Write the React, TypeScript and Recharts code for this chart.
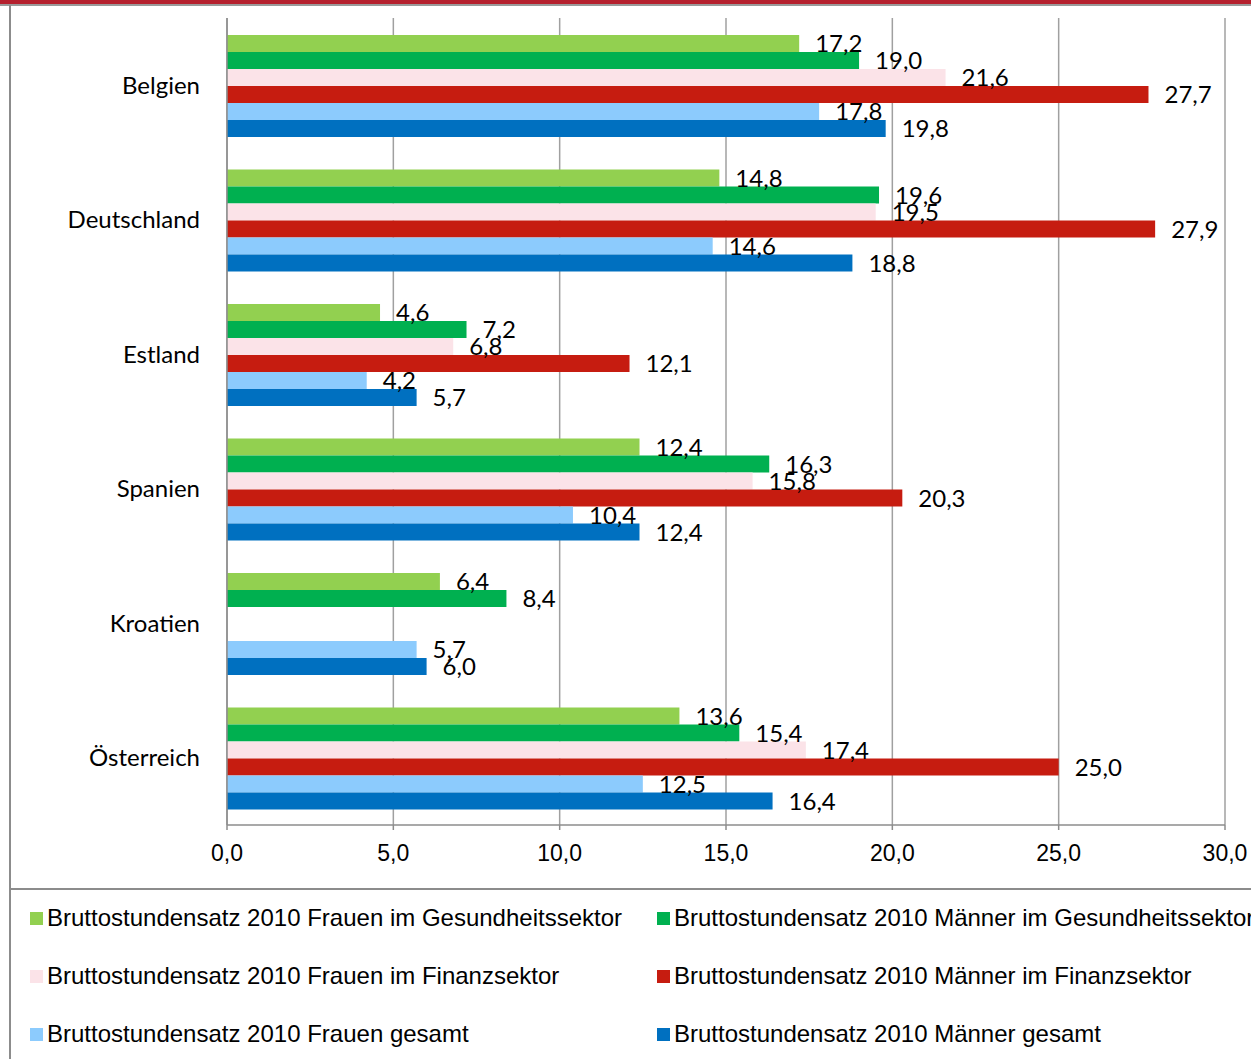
import React from "react";
import {
  BarChart,
  Bar,
  XAxis,
  YAxis,
  CartesianGrid,
  LabelList,
  Legend
} from "recharts";

const laender = ["Belgien", "Deutschland", "Estland", "Spanien", "Kroatien", "Österreich"];

const frauenGesundheit = [17.2, 14.8, 4.6, 12.4, 6.4, 13.6];
const maennerGesundheit = [19.0, 19.6, 7.2, 16.3, 8.4, 15.4];
const frauenFinanz = [21.6, 19.5, 6.8, 15.8, null, 17.4];
const maennerFinanz = [27.7, 27.9, 12.1, 20.3, null, 25.0];
const frauenGesamt = [17.8, 14.6, 4.2, 10.4, 5.7, 12.5];
const maennerGesamt = [19.8, 18.8, 5.7, 12.4, 6.0, 16.4];

const xTicks = [0, 5, 10, 15, 20, 25, 30];

const serien = [
  { key: "fg", name: "Bruttostundensatz 2010 Frauen im Gesundheitssektor", color: "#92d050", values: frauenGesundheit },
  { key: "mg", name: "Bruttostundensatz 2010 Männer im Gesundheitssektor", color: "#00b050", values: maennerGesundheit },
  { key: "ff", name: "Bruttostundensatz 2010 Frauen im Finanzsektor", color: "#fbe3e8", values: frauenFinanz },
  { key: "mf", name: "Bruttostundensatz 2010 Männer im Finanzsektor", color: "#c61c10", values: maennerFinanz },
  { key: "fa", name: "Bruttostundensatz 2010 Frauen gesamt", color: "#8ccbfd", values: frauenGesamt },
  { key: "ma", name: "Bruttostundensatz 2010 Männer gesamt", color: "#0070c0", values: maennerGesamt }
];

const data = laender.map((land, i) => {
  const row: Record<string, string | number | null> = { land };
  serien.forEach((s) => {
    row[s.key] = s.values[i];
  });
  return row;
});

const komma = (v: unknown) =>
  typeof v === "number" ? v.toFixed(1).replace(".", ",") : "";

const LABEL_FONT = "Lato, 'Open Sans', sans-serif";
const LEGEND_FONT = "'Liberation Sans', Arial, sans-serif";

const LegendBox = () => (
  <div style={{ position: "relative", width: 1251, height: 170, fontFamily: LEGEND_FONT }}>
    {serien.map((s, i) => {
      const col = i % 2;
      const row = Math.floor(i / 2);
      return (
        <div
          key={s.key}
          style={{
            position: "absolute",
            left: col === 0 ? 30 : 657,
            top: 29 + row * 58 - 14,
            height: 28,
            display: "flex",
            alignItems: "center",
            whiteSpace: "nowrap",
            fontSize: 24,
            color: "#000"
          }}
        >
          <span style={{ width: 13, height: 13, background: s.color, marginRight: 4, display: "inline-block" }} />
          {s.name}
        </div>
      );
    })}
  </div>
);

export default function App() {
  return (
    <div style={{ position: "absolute", left: 0, top: 0, width: 1251, height: 1059, background: "#fff", overflow: "hidden" }}>
      <BarChart
        width={1251}
        height={1059}
        data={data}
        layout="vertical"
        margin={{ top: 18, right: 26, bottom: 0, left: 0 }}
        barCategoryGap={17}
        barGap={0}
      >
        <CartesianGrid horizontal={false} stroke="#a0a0a0" strokeWidth={1.5} />
        <XAxis
          type="number"
          domain={[0, 30]}
          ticks={xTicks}
          tickFormatter={komma}
          height={64}
          stroke="#8c8c8c"
          strokeWidth={1.5}
          tickSize={5}
          tickMargin={15}
          tick={{ fill: "#000", fontSize: 23, fontFamily: LEGEND_FONT }}
          interval={0}
        />
        <YAxis
          type="category"
          dataKey="land"
          width={227}
          stroke="#8c8c8c"
          strokeWidth={1.5}
          tickSize={0}
          tickMargin={27}
          tick={{ fill: "#000", fontSize: 24, fontFamily: LABEL_FONT }}
        />
        <Legend
          verticalAlign="bottom"
          content={() => <LegendBox />}
          wrapperStyle={{ left: 0, width: 1251, height: 170, bottom: 0 }}
        />
        {serien.map((s) => (
          <Bar key={s.key} dataKey={s.key} name={s.name} fill={s.color} isAnimationActive={false}>
            <LabelList
              dataKey={s.key}
              position="right"
              offset={16}
              formatter={komma}
              style={{ fill: "#000", fontSize: 24, fontFamily: LABEL_FONT }}
            />
          </Bar>
        ))}
      </BarChart>
      {/* frame: red top band, gray rules */}
      <div style={{ position: "absolute", left: 0, top: 0, width: 1251, height: 4, background: "#b5202e" }} />
      <div style={{ position: "absolute", left: 0, top: 4, width: 1251, height: 2, background: "#9a9a9a" }} />
      <div style={{ position: "absolute", left: 9, top: 5, width: 2, height: 1054, background: "#8c8c8c" }} />
      <div style={{ position: "absolute", left: 10, top: 888, width: 1241, height: 2, background: "#8c8c8c" }} />
    </div>
  );
}
